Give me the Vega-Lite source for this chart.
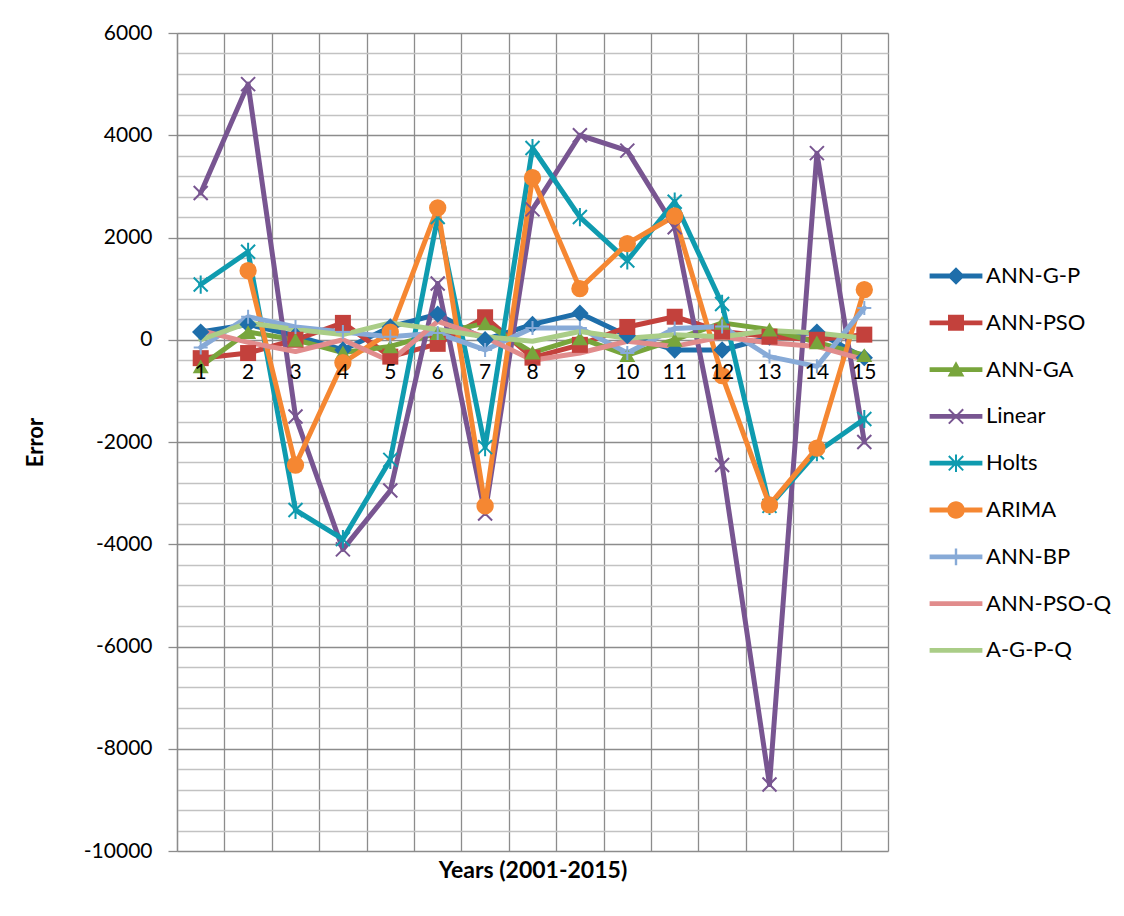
{
  "$schema": "https://vega.github.io/schema/vega-lite/v6.json",
  "width": 711,
  "height": 818,
  "autosize": {"type": "none"},
  "padding": {"left": 177, "top": 33, "right": 236, "bottom": 65},
  "background": "white",
  "config": {
    "font": "Lato",
    "view": {"stroke": null},
    "axis": {"labelFont": "Lato", "titleFont": "Lato", "labelColor": "#000000", "titleColor": "#000000"}
  },
  "data": {
    "values": [
      {"year": 1, "series": "ANN-G-P", "error": 150}, {"year": 2, "series": "ANN-G-P", "error": 300}, {"year": 3, "series": "ANN-G-P", "error": 80}, {"year": 4, "series": "ANN-G-P", "error": -200}, {"year": 5, "series": "ANN-G-P", "error": 250}, {"year": 6, "series": "ANN-G-P", "error": 500}, {"year": 7, "series": "ANN-G-P", "error": 0}, {"year": 8, "series": "ANN-G-P", "error": 300}, {"year": 9, "series": "ANN-G-P", "error": 520}, {"year": 10, "series": "ANN-G-P", "error": 80}, {"year": 11, "series": "ANN-G-P", "error": -200}, {"year": 12, "series": "ANN-G-P", "error": -200}, {"year": 13, "series": "ANN-G-P", "error": 50}, {"year": 14, "series": "ANN-G-P", "error": 150}, {"year": 15, "series": "ANN-G-P", "error": -350},
      {"year": 1, "series": "ANN-PSO", "error": -360}, {"year": 2, "series": "ANN-PSO", "error": -260}, {"year": 3, "series": "ANN-PSO", "error": 0}, {"year": 4, "series": "ANN-PSO", "error": 330}, {"year": 5, "series": "ANN-PSO", "error": -330}, {"year": 6, "series": "ANN-PSO", "error": -80}, {"year": 7, "series": "ANN-PSO", "error": 440}, {"year": 8, "series": "ANN-PSO", "error": -350}, {"year": 9, "series": "ANN-PSO", "error": -100}, {"year": 10, "series": "ANN-PSO", "error": 250}, {"year": 11, "series": "ANN-PSO", "error": 450}, {"year": 12, "series": "ANN-PSO", "error": 160}, {"year": 13, "series": "ANN-PSO", "error": 60}, {"year": 14, "series": "ANN-PSO", "error": 0}, {"year": 15, "series": "ANN-PSO", "error": 100},
      {"year": 1, "series": "ANN-GA", "error": -520}, {"year": 2, "series": "ANN-GA", "error": 150}, {"year": 3, "series": "ANN-GA", "error": 0}, {"year": 4, "series": "ANN-GA", "error": -250}, {"year": 5, "series": "ANN-GA", "error": -130}, {"year": 6, "series": "ANN-GA", "error": 130}, {"year": 7, "series": "ANN-GA", "error": 320}, {"year": 8, "series": "ANN-GA", "error": -250}, {"year": 9, "series": "ANN-GA", "error": 30}, {"year": 10, "series": "ANN-GA", "error": -300}, {"year": 11, "series": "ANN-GA", "error": 0}, {"year": 12, "series": "ANN-GA", "error": 330}, {"year": 13, "series": "ANN-GA", "error": 200}, {"year": 14, "series": "ANN-GA", "error": -50}, {"year": 15, "series": "ANN-GA", "error": -300},
      {"year": 1, "series": "Linear", "error": 2870}, {"year": 2, "series": "Linear", "error": 5000}, {"year": 3, "series": "Linear", "error": -1500}, {"year": 4, "series": "Linear", "error": -4100}, {"year": 5, "series": "Linear", "error": -2950}, {"year": 6, "series": "Linear", "error": 1100}, {"year": 7, "series": "Linear", "error": -3400}, {"year": 8, "series": "Linear", "error": 2550}, {"year": 9, "series": "Linear", "error": 4000}, {"year": 10, "series": "Linear", "error": 3700}, {"year": 11, "series": "Linear", "error": 2200}, {"year": 12, "series": "Linear", "error": -2450}, {"year": 13, "series": "Linear", "error": -8700}, {"year": 14, "series": "Linear", "error": 3650}, {"year": 15, "series": "Linear", "error": -2000},
      {"year": 1, "series": "Holts", "error": 1080}, {"year": 2, "series": "Holts", "error": 1720}, {"year": 3, "series": "Holts", "error": -3330}, {"year": 4, "series": "Holts", "error": -3900}, {"year": 5, "series": "Holts", "error": -2350}, {"year": 6, "series": "Holts", "error": 2400}, {"year": 7, "series": "Holts", "error": -2100}, {"year": 8, "series": "Holts", "error": 3750}, {"year": 9, "series": "Holts", "error": 2400}, {"year": 10, "series": "Holts", "error": 1550}, {"year": 11, "series": "Holts", "error": 2700}, {"year": 12, "series": "Holts", "error": 700}, {"year": 13, "series": "Holts", "error": -3250}, {"year": 14, "series": "Holts", "error": -2200}, {"year": 15, "series": "Holts", "error": -1550},
      {"year": 2, "series": "ARIMA", "error": 1350}, {"year": 3, "series": "ARIMA", "error": -2450}, {"year": 4, "series": "ARIMA", "error": -450}, {"year": 5, "series": "ARIMA", "error": 150}, {"year": 6, "series": "ARIMA", "error": 2580}, {"year": 7, "series": "ARIMA", "error": -3250}, {"year": 8, "series": "ARIMA", "error": 3170}, {"year": 9, "series": "ARIMA", "error": 1000}, {"year": 10, "series": "ARIMA", "error": 1880}, {"year": 11, "series": "ARIMA", "error": 2420}, {"year": 12, "series": "ARIMA", "error": -700}, {"year": 13, "series": "ARIMA", "error": -3230}, {"year": 14, "series": "ARIMA", "error": -2120}, {"year": 15, "series": "ARIMA", "error": 980},
      {"year": 1, "series": "ANN-BP", "error": -150}, {"year": 2, "series": "ANN-BP", "error": 450}, {"year": 3, "series": "ANN-BP", "error": 250}, {"year": 4, "series": "ANN-BP", "error": 150}, {"year": 5, "series": "ANN-BP", "error": 60}, {"year": 6, "series": "ANN-BP", "error": 130}, {"year": 7, "series": "ANN-BP", "error": -200}, {"year": 8, "series": "ANN-BP", "error": 230}, {"year": 9, "series": "ANN-BP", "error": 230}, {"year": 10, "series": "ANN-BP", "error": -260}, {"year": 11, "series": "ANN-BP", "error": 220}, {"year": 12, "series": "ANN-BP", "error": 260}, {"year": 13, "series": "ANN-BP", "error": -330}, {"year": 14, "series": "ANN-BP", "error": -520}, {"year": 15, "series": "ANN-BP", "error": 620},
      {"year": 1, "series": "ANN-PSO-Q", "error": 180}, {"year": 2, "series": "ANN-PSO-Q", "error": -50}, {"year": 3, "series": "ANN-PSO-Q", "error": -230}, {"year": 4, "series": "ANN-PSO-Q", "error": 0}, {"year": 5, "series": "ANN-PSO-Q", "error": -420}, {"year": 6, "series": "ANN-PSO-Q", "error": 360}, {"year": 7, "series": "ANN-PSO-Q", "error": 50}, {"year": 8, "series": "ANN-PSO-Q", "error": -400}, {"year": 9, "series": "ANN-PSO-Q", "error": -260}, {"year": 10, "series": "ANN-PSO-Q", "error": -30}, {"year": 11, "series": "ANN-PSO-Q", "error": -130}, {"year": 12, "series": "ANN-PSO-Q", "error": 60}, {"year": 13, "series": "ANN-PSO-Q", "error": -60}, {"year": 14, "series": "ANN-PSO-Q", "error": -130}, {"year": 15, "series": "ANN-PSO-Q", "error": -390},
      {"year": 1, "series": "A-G-P-Q", "error": 0}, {"year": 2, "series": "A-G-P-Q", "error": 330}, {"year": 3, "series": "A-G-P-Q", "error": 200}, {"year": 4, "series": "A-G-P-Q", "error": 100}, {"year": 5, "series": "A-G-P-Q", "error": 330}, {"year": 6, "series": "A-G-P-Q", "error": 200}, {"year": 7, "series": "A-G-P-Q", "error": 60}, {"year": 8, "series": "A-G-P-Q", "error": -30}, {"year": 9, "series": "A-G-P-Q", "error": 160}, {"year": 10, "series": "A-G-P-Q", "error": 30}, {"year": 11, "series": "A-G-P-Q", "error": 100}, {"year": 12, "series": "A-G-P-Q", "error": 60}, {"year": 13, "series": "A-G-P-Q", "error": 180}, {"year": 14, "series": "A-G-P-Q", "error": 130}, {"year": 15, "series": "A-G-P-Q", "error": 30}
    ]
  },
  "encoding": {
    "x": {
      "field": "year",
      "type": "quantitative",
      "scale": {"domain": [0.5, 15.5], "nice": false, "zero": false},
      "axis": {
        "values": [0.5, 1.5, 2.5, 3.5, 4.5, 5.5, 6.5, 7.5, 8.5, 9.5, 10.5, 11.5, 12.5, 13.5, 14.5, 15.5],
        "labels": false,
        "ticks": false,
        "domain": false,
        "grid": true,
        "gridColor": "#8c8c8c",
        "gridWidth": 1.3,
        "title": "Years (2001-2015)",
        "titleFontSize": 23,
        "titleFontWeight": "bold",
        "titlePadding": 8
      }
    },
    "y": {
      "field": "error",
      "type": "quantitative",
      "scale": {"domain": [-10000, 6000], "nice": false, "zero": false},
      "axis": {
        "values": [-10000, -9600, -9200, -8800, -8400, -8000, -7600, -7200, -6800, -6400, -6000, -5600, -5200, -4800, -4400, -4000, -3600, -3200, -2800, -2400, -2000, -1600, -1200, -800, -400, 0, 400, 800, 1200, 1600, 2000, 2400, 2800, 3200, 3600, 4000, 4400, 4800, 5200, 5600, 6000],
        "labelExpr": "datum.value % 2000 === 0 ? '' + datum.value : ''",
        "labelFontSize": 21,
        "labelPadding": 16,
        "grid": true,
        "gridColor": {"condition": {"test": "datum.value % 2000 === 0", "value": "#8c8c8c"}, "value": "#c2c2c2"},
        "gridWidth": 1.3,
        "tickColor": {"condition": {"test": "datum.value % 2000 === 0", "value": "#8c8c8c"}, "value": "transparent"},
        "tickSize": 9,
        "tickWidth": 1.3,
        "domainColor": "#8c8c8c",
        "domainWidth": 1.3,
        "title": "Error",
        "titleFontSize": 22,
        "titleFontWeight": "bold",
        "titlePadding": 36
      }
    }
  },
  "layer": [
    {
      "mark": {"type": "line", "strokeWidth": 5, "strokeJoin": "round", "strokeCap": "round"},
      "encoding": {
        "color": {
          "field": "series", "type": "nominal", "legend": null,
          "scale": {
            "domain": ["A-G-P-Q", "ANN-PSO-Q", "ANN-BP", "ARIMA", "Holts", "Linear", "ANN-GA", "ANN-PSO", "ANN-G-P"],
            "range": ["#aacd87", "#e18c8c", "#87aad7", "#f58732", "#0f9baf", "#785591", "#78a53c", "#c3413c", "#1e6eaa"]
          }
        }
      }
    },
    {
      "transform": [{"filter": "datum.series === 'ANN-G-P'"}],
      "mark": {"type": "point", "shape": "diamond", "filled": true, "opacity": 1, "size": 300},
      "encoding": {"color": {"field": "series", "type": "nominal", "legend": null}}
    },
    {
      "transform": [{"filter": "datum.series === 'ANN-PSO'"}],
      "mark": {"type": "point", "shape": "square", "filled": true, "opacity": 1, "size": 256},
      "encoding": {"color": {"field": "series", "type": "nominal", "legend": null}}
    },
    {
      "transform": [{"filter": "datum.series === 'ANN-GA'"}],
      "mark": {"type": "point", "shape": "triangle-up", "filled": true, "opacity": 1, "size": 256},
      "encoding": {"color": {"field": "series", "type": "nominal", "legend": null}}
    },
    {
      "transform": [{"filter": "datum.series === 'Linear'"}],
      "mark": {"type": "point", "shape": "M-1,-1L1,1M-1,1L1,-1", "filled": false, "opacity": 1, "size": 196, "strokeWidth": 2},
      "encoding": {"color": {"field": "series", "type": "nominal", "legend": null}}
    },
    {
      "transform": [{"filter": "datum.series === 'Holts'"}],
      "mark": {"type": "point", "shape": "M-1,-1L1,1M-1,1L1,-1M0,-1.3L0,1.3", "filled": false, "opacity": 1, "size": 196, "strokeWidth": 2},
      "encoding": {"color": {"field": "series", "type": "nominal", "legend": null}}
    },
    {
      "transform": [{"filter": "datum.series === 'ARIMA'"}],
      "mark": {"type": "point", "shape": "circle", "filled": true, "opacity": 1, "size": 300},
      "encoding": {"color": {"field": "series", "type": "nominal", "legend": null}}
    },
    {
      "transform": [{"filter": "datum.series === 'ANN-BP'"}],
      "mark": {"type": "point", "shape": "M0,-1L0,1M-1,0L1,0", "filled": false, "opacity": 1, "size": 196, "strokeWidth": 2},
      "encoding": {"color": {"field": "series", "type": "nominal", "legend": null}}
    },
    {
      "transform": [{"filter": "datum.series === 'Linear'"}],
      "mark": {"type": "text", "fontSize": 21, "baseline": "middle", "align": "center", "dy": 33, "color": "#000000"},
      "encoding": {"y": {"datum": 0}, "text": {"field": "year", "type": "quantitative"}}
    },
    {
      "transform": [{"filter": "datum.year > 99"}],
      "mark": {"type": "point", "filled": true, "opacity": 1, "size": 256, "strokeWidth": 0},
      "encoding": {
        "fill": {
          "field": "series", "type": "nominal",
          "scale": {
            "domain": ["ANN-G-P", "ANN-PSO", "ANN-GA", "Linear", "Holts", "ARIMA", "ANN-BP", "ANN-PSO-Q", "A-G-P-Q"],
            "range": ["#1e6eaa", "#c3413c", "#78a53c", "#785591", "#0f9baf", "#f58732", "#87aad7", "#e18c8c", "#aacd87"]
          },
          "legend": {"title": null, "orient": "none", "legendX": 768, "legendY": 232, "labelFontSize": 22, "labelFont": "Lato", "labelColor": "#000000", "symbolSize": 256, "labelOffset": 19, "rowPadding": 24.8, "padding": 0, "symbolStrokeWidth": 0}
        },
        "shape": {
          "field": "series", "type": "nominal",
          "scale": {
            "domain": ["ANN-G-P", "ANN-PSO", "ANN-GA", "Linear", "Holts", "ARIMA", "ANN-BP", "ANN-PSO-Q", "A-G-P-Q"],
            "range": [
              "M-3.3,-0.3H3.3V0.3H-3.3ZM0,-1.1L1.1,0L0,1.1L-1.1,0Z",
              "M-3.3,-0.3H3.3V0.3H-3.3ZM-1,-1H1V1H-1Z",
              "M-3.3,-0.3H3.3V0.3H-3.3ZM0,-1.05L1.05,0.85H-1.05Z",
              "M-3.3,-0.3H3.3V0.3H-3.3ZM-0.812,-0.988L0.988,0.812L0.812,0.988L-0.988,-0.812ZM-0.988,0.812L0.812,-0.988L0.988,-0.812L-0.812,0.988Z",
              "M-3.3,-0.3H3.3V0.3H-3.3ZM-0.812,-0.988L0.988,0.812L0.812,0.988L-0.988,-0.812ZM-0.988,0.812L0.812,-0.988L0.988,-0.812L-0.812,0.988ZM-0.125,-1.1H0.125V1.1H-0.125Z",
              "M-3.3,-0.3H3.3V0.3H-3.3ZM-1.1,0A1.1,1.1 0 1,1 1.1,0A1.1,1.1 0 1,1 -1.1,0Z",
              "M-3.3,-0.3H3.3V0.3H-3.3ZM-0.15,-1.05H0.15V1.05H-0.15Z",
              "M-3.3,-0.3H3.3V0.3H-3.3Z",
              "M-3.3,-0.3H3.3V0.3H-3.3Z"
            ]
          },
          "legend": {"title": null, "orient": "none", "legendX": 768, "legendY": 232, "labelFontSize": 22, "labelFont": "Lato", "labelColor": "#000000", "symbolSize": 256, "labelOffset": 19, "rowPadding": 24.8, "padding": 0, "symbolStrokeWidth": 0}
        }
      }
    }
  ]
}
